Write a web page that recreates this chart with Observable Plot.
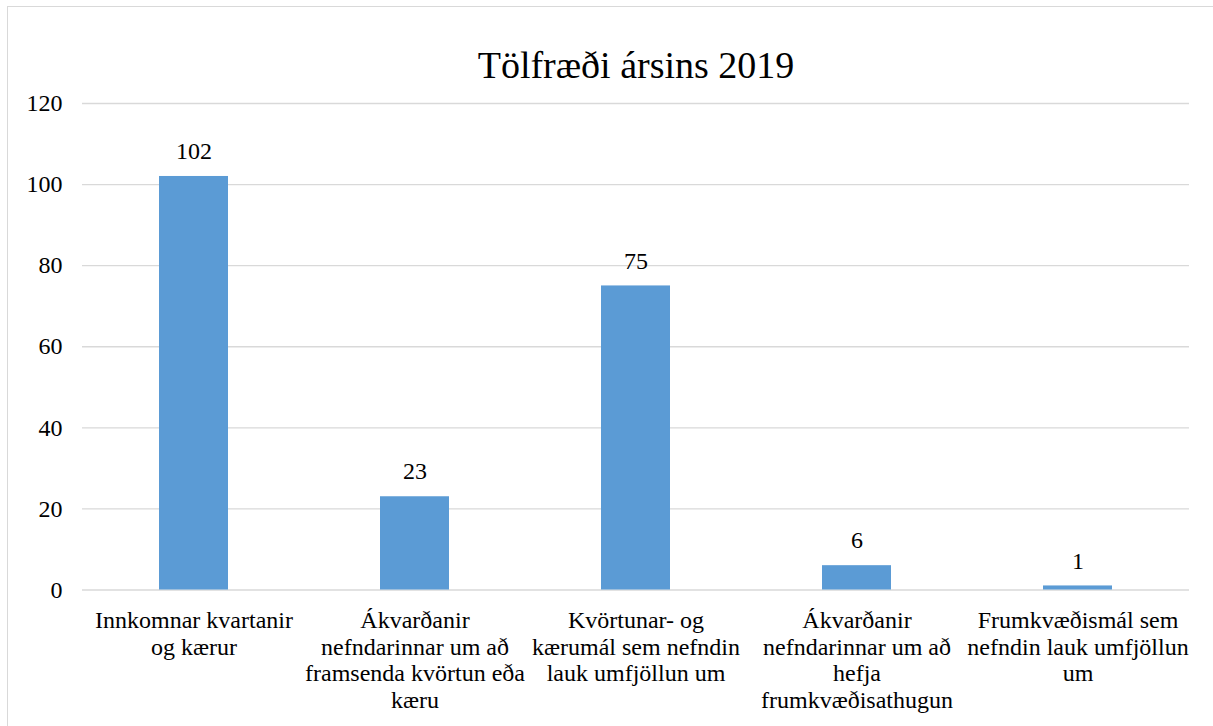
<!DOCTYPE html>
<html>
<head>
<meta charset="utf-8">
<script src="https://cdn.jsdelivr.net/npm/d3@7"></script>
<script src="https://cdn.jsdelivr.net/npm/@observablehq/plot@0.6"></script>
</head>
<body style="margin:0">
<div id="c"></div>
<script>
const title = "Tölfræði ársins 2019";
const categories = [
  "Innkomnar kvartanir og kærur",
  "Ákvarðanir nefndarinnar um að framsenda kvörtun eða kæru",
  "Kvörtunar- og kærumál sem nefndin lauk umfjöllun um",
  "Ákvarðanir nefndarinnar um að hefja frumkvæðisathugun",
  "Frumkvæðismál sem nefndin lauk umfjöllun um"
];
const tickLabels = [
  "Innkomnar kvartanir\nog kærur",
  "Ákvarðanir\nnefndarinnar um að\nframsenda kvörtun eða\nkæru",
  "Kvörtunar- og\nkærumál sem nefndin\nlauk umfjöllun um",
  "Ákvarðanir\nnefndarinnar um að\nhefja\nfrumkvæðisathugun",
  "Frumkvæðismál sem\nnefndin lauk umfjöllun\num"
];
const values = [102, 23, 75, 6, 1];
const yTicks = [0, 20, 40, 60, 80, 100, 120];

const data = categories.map((c, i) => ({category: c, value: values[i]}));
const labelOf = new Map(categories.map((c, i) => [c, tickLabels[i]]));

const font = "Liberation Serif";

const chart = Plot.plot({
  width: 1213,
  height: 726,
  marginLeft: 81,
  marginRight: 25,
  marginTop: 102,
  marginBottom: 137.5,
  x: {domain: categories, paddingInner: 0.69, paddingOuter: 0.345, label: null},
  y: {domain: [0, 120], label: null},
  marks: [
    Plot.ruleY(yTicks, {stroke: "#d9d9d9", strokeWidth: 1.4}),
    Plot.barY(data, {x: "category", y: "value", fill: "#5b9bd5"}),
    Plot.text(data, {x: "category", y: "value", text: d => String(d.value), dy: -25,
      fontSize: 24, fontFamily: font, fill: "#000"}),
    Plot.axisY({ticks: yTicks, tickSize: 0, tickPadding: 20, fontSize: 24, fontFamily: font, label: null, fill: "#000"}),
    Plot.axisX({tickSize: 0, tickPadding: 19, fontSize: 24, fontFamily: font, lineHeight: 1.11, label: null,
      tickFormat: c => labelOf.get(c), fill: "#000", lineWidth: Infinity}),
    Plot.text([title], {frameAnchor: "top", dy: -52, fontSize: 38, fontFamily: font, fill: "#000"})
  ]
});
chart.style.borderTop = "1.5px solid #d9d9d9";
chart.style.borderLeft = "1.5px solid #d9d9d9";
chart.style.marginLeft = "7px";
chart.style.marginTop = "6px";
chart.style.overflow = "visible";
chart.setAttribute("viewBox", "7 6 1213 726");
document.getElementById("c").appendChild(chart);
</script>
</body>
</html>
